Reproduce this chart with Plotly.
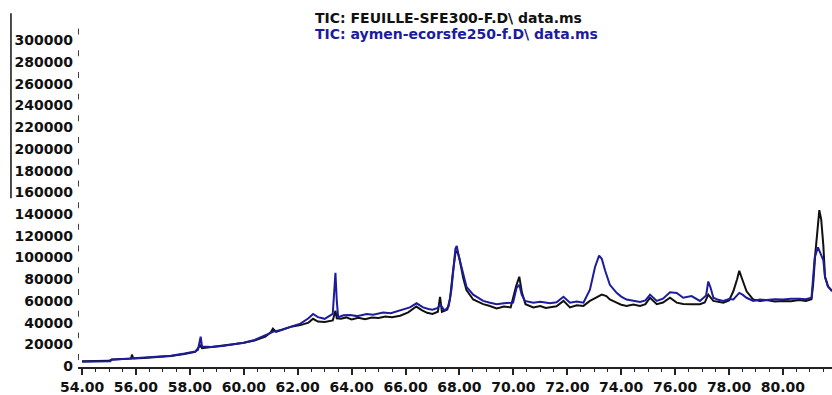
import plotly.graph_objects as go

# ---- data (retention time, min ; abundance) ----
black_t = [54.00, 54.50, 55.00, 55.10, 55.50, 55.82, 55.85, 55.90, 56.30, 56.80, 57.30, 57.80,
           58.20, 58.38, 58.45, 58.80, 59.20, 59.60, 60.00, 60.40, 60.80, 61.00, 61.08, 61.20,
           61.50, 61.80, 62.10, 62.40, 62.57, 62.75, 63.00, 63.30, 63.40, 63.45, 63.60, 63.80,
           64.00, 64.25, 64.50, 64.75, 65.00, 65.25, 65.50, 65.80, 66.10, 66.40, 66.60, 66.80,
           67.00, 67.20, 67.28, 67.35, 67.55, 67.65, 67.75, 67.85, 67.92, 68.00, 68.14, 68.26,
           68.51, 68.70, 68.88, 69.10, 69.38, 69.65, 69.90, 70.10, 70.22, 70.32, 70.45, 70.74,
           71.00, 71.20, 71.36, 71.60, 71.86, 72.10, 72.35, 72.60, 72.84, 73.10, 73.28, 73.45,
           73.58, 73.83, 74.00, 74.20, 74.45, 74.70, 74.90, 75.07, 75.32, 75.55, 75.81, 76.06,
           76.30, 76.61, 76.92, 77.10, 77.23, 77.42, 77.60, 77.79, 78.00, 78.16, 78.30, 78.38,
           78.50, 78.65, 78.90, 79.15, 79.39, 79.70, 80.00, 80.30, 80.60, 80.85, 81.06, 81.12,
           81.20, 81.30, 81.35, 81.42, 81.50, 81.56, 81.67, 81.82]
black_v = [4500, 4600, 4800, 6000, 6500, 6800, 10500, 7000, 7500, 8300, 9200, 11000,
           13000, 19000, 16500, 17500, 18500, 20000, 21500, 23500, 27000, 31000, 34500, 31500,
           34000, 36500, 37700, 40000, 43500, 41000, 40500, 42000, 51000, 44000, 43500, 44800,
           43000, 44500, 43200, 44800, 44200, 45600, 45000, 46400, 49400, 54800, 51500, 49000,
           48000, 50000, 63800, 50000, 52000, 62000, 85000, 104000, 106000, 99000, 81000, 70000,
           61300, 58800, 57000, 55500, 53000, 54800, 54000, 73400, 82300, 67400, 57000, 54000,
           55200, 53500, 54000, 55000, 60000, 54000, 56000, 55400, 60000, 63500, 65800, 64400,
           61300, 58400, 56500, 55400, 56600, 55400, 57000, 62900, 57000, 58500, 63000, 58400,
           57200, 57000, 57000, 58500, 65800, 60000, 59000, 58400, 60500, 68900, 80000, 87700,
           79300, 68900, 61300, 60000, 60800, 59500, 60000, 59800, 60800, 60000, 61500, 75000,
           103300, 135000, 143700, 135000, 110700, 82300, 73400, 69500]

blue_t = [54.00, 54.60, 55.05, 55.10, 55.60, 56.30, 56.80, 57.30, 57.80, 58.20, 58.30, 58.36,
          58.40, 58.45, 58.80, 59.20, 59.60, 60.00, 60.40, 60.80, 61.08, 61.40, 61.80, 62.10,
          62.40, 62.57, 62.75, 63.00, 63.30, 63.36, 63.40, 63.45, 63.50, 63.70, 63.94, 64.20,
          64.56, 64.80, 65.17, 65.45, 65.79, 66.16, 66.41, 66.65, 66.85, 67.00, 67.20, 67.28,
          67.45, 67.60, 67.70, 67.78, 67.85, 67.90, 67.98, 68.14, 68.26, 68.51, 68.70, 68.88,
          69.10, 69.38, 69.65, 69.99, 70.12, 70.22, 70.31, 70.43, 70.74, 71.00, 71.36, 71.60,
          71.86, 72.10, 72.35, 72.60, 72.84, 73.03, 73.18, 73.28, 73.40, 73.58, 73.83, 74.00,
          74.20, 74.45, 74.70, 74.90, 75.07, 75.32, 75.55, 75.81, 76.06, 76.30, 76.61, 76.92,
          77.15, 77.23, 77.32, 77.42, 77.60, 77.79, 78.00, 78.16, 78.38, 78.50, 78.65, 78.90,
          79.15, 79.39, 79.70, 80.00, 80.30, 80.60, 80.85, 81.06, 81.12, 81.18, 81.30, 81.40,
          81.50, 81.56, 81.67, 81.82]
blue_v = [4000, 4200, 4300, 5800, 6500, 7500, 8500, 9500, 11500, 13500, 15000, 25000,
          27000, 18000, 17500, 18500, 20000, 21500, 24000, 28000, 31500, 33500, 36500, 39000,
          44000, 48000, 45000, 43500, 48000, 70000, 86000, 60000, 45000, 46800, 47000, 46000,
          48000, 47200, 49400, 48600, 51000, 54000, 57800, 54000, 52500, 51800, 53500, 56900,
          51000, 55000, 70000, 88000, 108000, 110700, 100500, 85000, 73000, 65800, 62500, 60000,
          58500, 57000, 57800, 58400, 72000, 74800, 65800, 60000, 58400, 59200, 57800, 58800,
          63800, 58400, 59500, 58400, 70300, 91300, 101800, 98800, 88300, 74800, 67400, 64000,
          61300, 60200, 59000, 60500, 65800, 60000, 62000, 68000, 67400, 62900, 64400, 60000,
          65000, 77900, 71900, 62900, 61000, 60000, 61800, 61300, 67400, 65800, 62900, 60000,
          61200, 60800, 61600, 61300, 62000, 62000, 61500, 62900, 80000, 100300, 109300, 103000,
          97300, 82300, 73400, 68900]

black_name = "TIC: FEUILLE-SFE300-F.D\\ data.ms"
blue_name = "TIC: aymen-ecorsfe250-f.D\\ data.ms"

y_ticks = list(range(0, 300001, 20000))
x_ticks = [54 + 2 * i for i in range(14)]
x_range = [53.85, 81.82]
y_range = [-900, 319800]

FONT = "DejaVu Sans"
BLUE = "#1c1c9c"
INK = "#111111"

fig = go.Figure()

# dashed-looking vertical axis: short segments just above each y tick
seg_x, seg_y = [], []
for v in y_ticks:
    seg_x += [x_range[0], x_range[0], None]
    seg_y += [v + 5500, v + 11000, None]
fig.add_trace(go.Scatter(x=seg_x, y=seg_y, mode="lines", line=dict(color=INK, width=1.6),
                         hoverinfo="skip", showlegend=False, cliponaxis=False))

fig.add_trace(go.Scatter(x=black_t, y=black_v, mode="lines", name=black_name,
                         line=dict(color=INK, width=2)))
fig.add_trace(go.Scatter(x=blue_t, y=blue_v, mode="lines", name=blue_name,
                         line=dict(color=BLUE, width=2)))

fig.update_layout(
    width=832, height=395,
    margin=dict(l=78, r=0, t=19, b=19),
    paper_bgcolor="white", plot_bgcolor="white",
    showlegend=False,
    font=dict(family=FONT, size=14, color=INK),
    xaxis=dict(range=x_range, tickvals=x_ticks, tickformat=".2f",
               showgrid=False, zeroline=False, showline=True, linecolor="#222222", linewidth=1.5,
               ticks="outside", ticklen=6, tickwidth=1.5, tickcolor="#222222",
               minor=dict(dtick=0.5, tick0=54, ticks="outside", ticklen=3, tickwidth=1.2,
                          tickcolor="#222222"),
               tickfont=dict(family=FONT, size=14, color=INK, weight="bold")),
    yaxis=dict(range=y_range, tickvals=y_ticks, tickformat="d",
               showgrid=False, zeroline=False, showline=False, ticks="",
               ticklabelstandoff=4,
               tickfont=dict(family=FONT, size=14, color=INK, weight="bold")),
    annotations=[
        dict(xref="paper", yref="paper", x=0.3117, y=1.003, xanchor="left", yanchor="middle",
             text=black_name, showarrow=False,
             font=dict(family=FONT, size=14, color=INK, weight="bold")),
        dict(xref="paper", yref="paper", x=0.3117, y=0.958, xanchor="left", yanchor="middle",
             text=blue_name, showarrow=False,
             font=dict(family=FONT, size=14, color=BLUE, weight="bold")),
    ],
    shapes=[dict(type="line", xref="paper", yref="paper", x0=-0.0889, x1=-0.0889,
                 y0=0.4846, y1=1.0168, line=dict(color=INK, width=1.5))],
)

fig.write_html("out.html")
